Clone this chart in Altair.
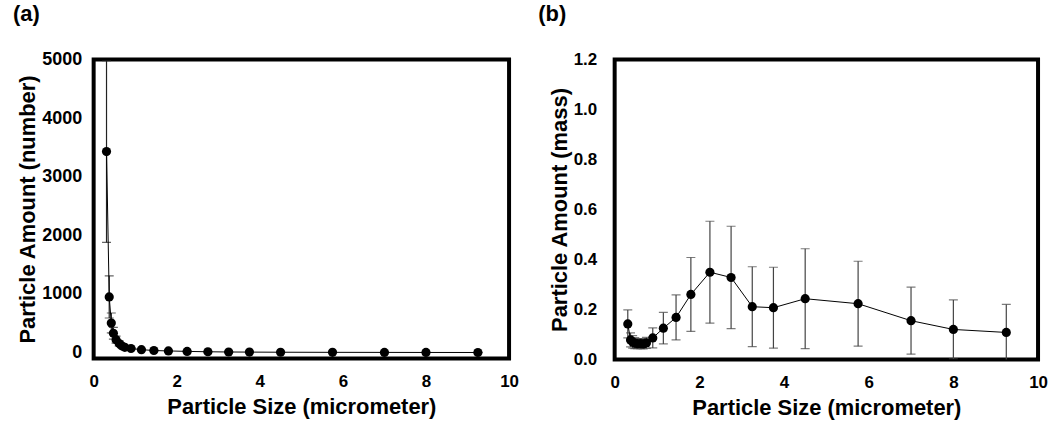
import altair as alt
import pandas as pd

# Particle size channel midpoints (micrometer)
size_um = [0.31, 0.375, 0.425, 0.475, 0.54, 0.615, 0.675, 0.75, 0.9, 1.15, 1.45,
           1.8, 2.25, 2.75, 3.25, 3.75, 4.5, 5.75, 7.0, 8.0, 9.25]

# (a) number distribution
number_mean = [3430, 950, 505, 330, 220, 155, 115, 90, 70, 50, 35,
               28, 20, 14, 10, 8, 6, 4, 3, 2, 1.5]
number_sd = [1550, 360, 170, 100, 60, 40, 30, 22, 15, 10, 8,
             6, 5, 4, 3, 2, 2, 1, 1, 1, 1]

# (b) mass distribution
mass_mean = [0.142, 0.078, 0.070, 0.065, 0.063, 0.063, 0.062, 0.066, 0.086, 0.125, 0.168,
             0.260, 0.349, 0.328, 0.211, 0.207, 0.243, 0.223, 0.155, 0.120, 0.108]
mass_sd = [0.056, 0.028, 0.025, 0.022, 0.020, 0.020, 0.020, 0.022, 0.040, 0.063, 0.090,
           0.148, 0.204, 0.205, 0.160, 0.162, 0.200, 0.170, 0.134, 0.118, 0.112]

x_ticks = [0, 2, 4, 6, 8, 10]
ya_ticks = [0, 1000, 2000, 3000, 4000, 5000]
yb_ticks = [0.0, 0.2, 0.4, 0.6, 0.8, 1.0, 1.2]

FONT = "Liberation Sans"

df_a = pd.DataFrame({"x": size_um, "y": number_mean,
                     "lo": [m - s for m, s in zip(number_mean, number_sd)],
                     "hi": [m + s for m, s in zip(number_mean, number_sd)]})
df_b = pd.DataFrame({"x": size_um, "y": mass_mean,
                     "lo": [m - s for m, s in zip(mass_mean, mass_sd)],
                     "hi": [m + s for m, s in zip(mass_mean, mass_sd)]})


def panel(df, ydomain, yticks, yfmt, ytitle, label, width, height, err_color,
          ylabpad, ytitlepad, ylabsize, title_dx):
    xs = alt.Scale(domain=[0, 10], nice=False, zero=False)
    ys = alt.Scale(domain=ydomain, nice=False, zero=False)
    xax = alt.Axis(values=x_ticks, title="Particle Size (micrometer)", labelFlush=False,
                   labelPadding=15, titlePadding=7, format="d")
    yax = alt.Axis(values=yticks, title=ytitle, format=yfmt, labelPadding=ylabpad,
                   titlePadding=ytitlepad, labelFontSize=ylabsize)
    base = alt.Chart(df)
    err = base.mark_rule(color=err_color, strokeWidth=1.2, clip=True).encode(
        x=alt.X("x:Q", scale=xs, axis=xax),
        y=alt.Y("lo:Q", scale=ys, axis=yax),
        y2="hi:Q")
    cap_hi = base.mark_tick(color=err_color, orient="horizontal", size=9, thickness=1.2,
                            clip=True).encode(x=alt.X("x:Q", scale=xs), y=alt.Y("hi:Q", scale=ys))
    cap_lo = base.mark_tick(color=err_color, orient="horizontal", size=9, thickness=1.2,
                            clip=True).encode(x=alt.X("x:Q", scale=xs), y=alt.Y("lo:Q", scale=ys))
    line = base.mark_line(color="black", strokeWidth=1, clip=True).encode(
        x=alt.X("x:Q", scale=xs), y=alt.Y("y:Q", scale=ys))
    pts = base.mark_circle(color="black", opacity=1, size=85, clip=True).encode(
        x=alt.X("x:Q", scale=xs), y=alt.Y("y:Q", scale=ys))
    return alt.layer(err, cap_hi, cap_lo, line, pts).properties(
        width=width, height=height,
        title=alt.TitleParams(label, anchor="start", frame="bounds", font=FONT,
                              fontSize=22, fontWeight="bold", color="black", offset=25,
                              dx=title_dx))


pa = panel(df_a, [-100, 5000], ya_ticks, "d", "Particle Amount (number)", "(a)",
           417, 300, "#222222", 12, 2, 18, -4)
pb = panel(df_b, [0, 1.2], yb_ticks, ".1f", "Particle Amount (mass)", "(b)",
           425, 301, "#444444", 18, 2, 17, -10)

chart = alt.hconcat(pa, pb, spacing=15).properties(
    padding={"left": 10, "top": 0, "right": 0, "bottom": 0},
    background="white"
).configure_view(stroke="black", strokeWidth=4).configure_axis(
    labelFont=FONT, titleFont=FONT, labelFontSize=17, titleFontSize=22,
    labelFontWeight="bold", titleFontWeight="bold", labelColor="black", titleColor="black",
    ticks=False, domain=False, grid=False
)

chart.save("out.html", embed_options={"renderer": "svg", "actions": False})
